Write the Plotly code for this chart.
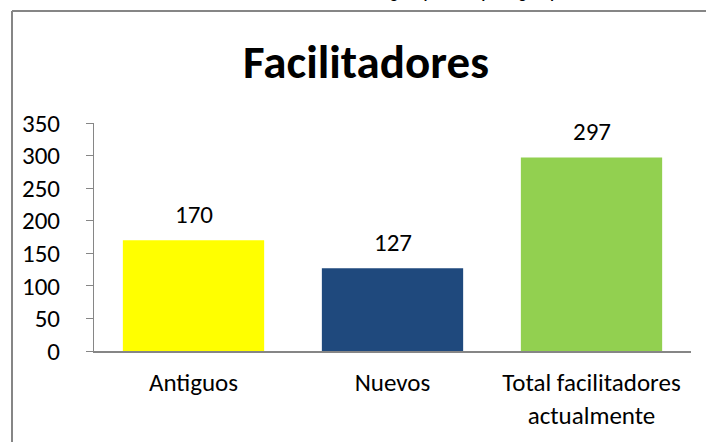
import plotly.graph_objects as go

# Datos
categorias = ['Antiguos', 'Nuevos', 'Total facilitadores<br>actualmente']
valores = [170, 127, 297]
colores = ['#FFFF00', '#1F497D', '#92D050']
ticks_y = [0, 50, 100, 150, 200, 250, 300, 350]

W, H = 706, 442
font_fam = 'Carlito, Calibri, Lato, sans-serif'

fig = go.Figure()

fig.add_trace(go.Bar(
    x=categorias, y=valores, marker_color=colores, width=0.71,
    marker_line_width=0, showlegend=False
))

# Etiquetas de datos
for c, v in zip(categorias, valores):
    fig.add_annotation(x=c, y=v, text=str(v), showarrow=False, yanchor='middle',
                       yshift=26, font=dict(size=25, color='#000000', family=font_fam))

# Titulo
fig.add_annotation(x=366 / W, y=1 - 62 / H, xref='paper', yref='paper', yanchor='middle',
                   text='<b>Facilitadores</b>',
                   showarrow=False, font=dict(size=47, color='#000000', family=font_fam))

# Texto cortado arriba (solo asoma el borde inferior)
fig.add_annotation(x=375 / W, y=1, xref='paper', yref='paper', yanchor='bottom', yshift=-4,
                   text='<b>Tabla 1. Número de facilitadores antiguos y nuevos por región y total</b>',
                   showarrow=False, font=dict(size=15, color='#000000', family=font_fam))

# Borde del area del grafico (solo se ven el lado izquierdo y el superior)
borde = dict(color='#868686', width=2)
fig.add_shape(type='line', xref='paper', yref='paper', x0=12 / W, x1=12 / W, y0=0, y1=1 - 11 / H, line=borde)
fig.add_shape(type='line', xref='paper', yref='paper', x0=12 / W, x1=1, y0=1 - 11 / H, y1=1 - 11 / H, line=borde)

fig.update_layout(
    width=W, height=H,
    margin=dict(l=0, r=0, t=0, b=0, autoexpand=False),
    paper_bgcolor='white', plot_bgcolor='white',
    bargap=0.29,
    xaxis=dict(domain=[94 / W, 691 / W], showline=True, linecolor='#868686', linewidth=2,
               ticks='', ticklabelstandoff=8, automargin=False,
               tickfont=dict(size=25, color='#000000', family=font_fam)),
    yaxis=dict(domain=[(H - 351) / H, (H - 123) / H], range=[0, 350], tickvals=ticks_y,
               showline=True, linecolor='#868686', linewidth=1, showgrid=False, zeroline=False,
               ticks='outside', ticklen=7, tickcolor='#868686', ticklabelstandoff=21, automargin=False,
               tickfont=dict(size=25, color='#000000', family=font_fam)),
)

fig.write_html('out.html', config={'displayModeBar': False},
               post_script="document.body.style.margin='0';document.body.style.overflow='hidden';")
